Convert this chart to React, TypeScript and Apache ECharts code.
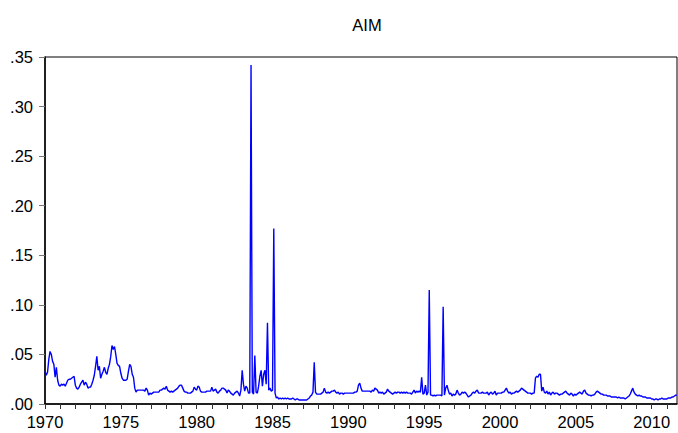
import React, { useEffect, useRef } from "react";
import * as echarts from "echarts";

// Monthly AIM values, 1970M01 .. 2011M09 (one row per year)
const aim1970s = [
  0.033, 0.029, 0.032, 0.045, 0.053, 0.05, 0.043, 0.04, 0.027, 0.037, 0.024, 0.019,
  0.018, 0.02, 0.019, 0.02, 0.018, 0.021, 0.024, 0.025, 0.025, 0.026, 0.027, 0.028,
  0.019, 0.016, 0.015, 0.017, 0.02, 0.022, 0.024, 0.019, 0.022, 0.02, 0.016, 0.017,
  0.017, 0.02, 0.024, 0.029, 0.038, 0.048, 0.034, 0.038, 0.026, 0.03, 0.033, 0.037,
  0.032, 0.03, 0.036, 0.04, 0.048, 0.059, 0.055, 0.058, 0.05, 0.041, 0.039, 0.038,
  0.031, 0.026, 0.024, 0.024, 0.024, 0.025, 0.033, 0.04, 0.038, 0.03, 0.027, 0.016,
  0.012, 0.014, 0.014, 0.014, 0.014, 0.014, 0.014, 0.013, 0.016, 0.014, 0.009, 0.011,
  0.01, 0.011, 0.012, 0.012, 0.012, 0.012, 0.012, 0.014, 0.014, 0.015, 0.016, 0.015,
  0.018, 0.014, 0.013, 0.012, 0.013, 0.012, 0.013, 0.014, 0.015, 0.016, 0.018, 0.019,
  0.019, 0.016, 0.013, 0.012, 0.012, 0.011, 0.011, 0.011, 0.012, 0.013, 0.017, 0.015,
];
const aim1980s = [
  0.014, 0.018, 0.017, 0.013, 0.012, 0.012, 0.012, 0.012, 0.013, 0.013, 0.013, 0.013,
  0.017, 0.013, 0.014, 0.015, 0.012, 0.011, 0.013, 0.014, 0.016, 0.016, 0.015, 0.014,
  0.011, 0.014, 0.013, 0.011, 0.01, 0.009, 0.011, 0.012, 0.013, 0.011, 0.008, 0.014,
  0.034, 0.02, 0.013, 0.018, 0.016, 0.011, 0.011, 0.342, 0.012, 0.01, 0.049, 0.012,
  0.011, 0.018, 0.028, 0.034, 0.018, 0.03, 0.034, 0.02, 0.082, 0.014, 0.016, 0.013,
  0.014, 0.177, 0.011, 0.006, 0.007, 0.005, 0.006, 0.005, 0.006, 0.005, 0.006, 0.005,
  0.006, 0.005, 0.005, 0.005, 0.006, 0.005, 0.004, 0.005, 0.005, 0.004, 0.004, 0.004,
  0.004, 0.004, 0.004, 0.004, 0.005, 0.006, 0.008, 0.009, 0.012, 0.042, 0.012, 0.01,
  0.01, 0.01, 0.01, 0.011, 0.012, 0.016, 0.012, 0.011, 0.012, 0.011, 0.012, 0.013,
  0.013, 0.014, 0.012, 0.011, 0.012, 0.01, 0.011, 0.011, 0.01, 0.011, 0.011, 0.011,
];
const aim1990s = [
  0.011, 0.011, 0.011, 0.011, 0.011, 0.012, 0.012, 0.013, 0.019, 0.021, 0.016, 0.013,
  0.013, 0.013, 0.013, 0.013, 0.013, 0.013, 0.012, 0.014, 0.013, 0.016, 0.015, 0.014,
  0.011, 0.012, 0.011, 0.012, 0.01, 0.011, 0.012, 0.015, 0.013, 0.012, 0.011, 0.01,
  0.011, 0.012, 0.011, 0.012, 0.012, 0.011, 0.012, 0.011, 0.012, 0.011, 0.012, 0.011,
  0.011, 0.011, 0.01, 0.012, 0.014, 0.011, 0.013, 0.012, 0.013, 0.012, 0.027, 0.01,
  0.011, 0.019, 0.009, 0.012, 0.115, 0.009, 0.009, 0.008, 0.009, 0.008, 0.009, 0.009,
  0.009, 0.009, 0.008, 0.098, 0.009, 0.016, 0.019, 0.014, 0.01, 0.011, 0.008, 0.01,
  0.009, 0.01, 0.014, 0.011, 0.009, 0.01, 0.012, 0.011, 0.012, 0.011, 0.009, 0.007,
  0.008, 0.009, 0.011, 0.012, 0.011, 0.013, 0.014, 0.011, 0.011, 0.011, 0.012, 0.011,
  0.011, 0.011, 0.012, 0.009, 0.011, 0.012, 0.01, 0.011, 0.013, 0.009, 0.011, 0.011,
];
const aim2000s = [
  0.011, 0.011, 0.012, 0.012, 0.014, 0.016, 0.013, 0.011, 0.012, 0.01, 0.011, 0.011,
  0.012, 0.013, 0.012, 0.013, 0.014, 0.016, 0.015, 0.014, 0.013, 0.012, 0.011, 0.011,
  0.011, 0.01, 0.011, 0.011, 0.026, 0.028, 0.027, 0.03, 0.03, 0.013, 0.017, 0.012,
  0.011, 0.013, 0.01, 0.012, 0.009, 0.011, 0.012, 0.01, 0.011, 0.011, 0.01, 0.009,
  0.01, 0.01, 0.011, 0.012, 0.013, 0.011, 0.01, 0.009, 0.011, 0.01, 0.008, 0.01,
  0.009, 0.01, 0.011, 0.012, 0.011, 0.01, 0.013, 0.014, 0.011, 0.01, 0.009, 0.009,
  0.008, 0.009, 0.009, 0.01, 0.012, 0.013, 0.012, 0.011, 0.01, 0.01, 0.009, 0.009,
  0.009, 0.008, 0.008, 0.008, 0.007, 0.007, 0.007, 0.007, 0.007, 0.006, 0.007, 0.006,
  0.006, 0.006, 0.006, 0.005, 0.006, 0.007, 0.008, 0.01, 0.013, 0.016, 0.012, 0.01,
  0.009, 0.008, 0.009, 0.008, 0.008, 0.007, 0.007, 0.007, 0.006, 0.006, 0.006, 0.006,
];
const aim2010s = [
  0.005, 0.005, 0.004, 0.005, 0.005, 0.004, 0.005, 0.005, 0.006, 0.005, 0.005, 0.005,
  0.005, 0.006, 0.006, 0.006, 0.007, 0.007, 0.008, 0.009, 0.009,
];

const startYear = 1970;
const yTicks = [0, 0.05, 0.1, 0.15, 0.2, 0.25, 0.3, 0.35];

const aimValues = [...aim1970s, ...aim1980s, ...aim1990s, ...aim2000s, ...aim2010s];
const months = aimValues.map((_, i) => {
  const y = startYear + Math.floor(i / 12);
  const m = (i % 12) + 1;
  return `${y}M${m < 10 ? "0" + m : m}`;
});

export default function App() {
  const ref = useRef<HTMLDivElement>(null);
  useEffect(() => {
    document.body.style.margin = "0";
    const chart = echarts.init(ref.current!, undefined, { renderer: "svg" });
    const font = "'Liberation Sans', Arial, sans-serif";
    chart.setOption({
      animation: false,
      backgroundColor: "#ffffff",
      title: {
        text: "AIM",
        left: 362,
        textAlign: "center",
        top: 11,
        textStyle: { fontFamily: font, fontSize: 16.5, fontWeight: "normal", color: "#000" },
      },
      grid: {
        left: 45,
        right: 1,
        top: 57,
        bottom: 29,
        show: true,
        borderColor: "#000",
        borderWidth: 1,
        containLabel: false,
      },
      xAxis: {
        type: "category",
        data: months,
        boundaryGap: false,
        axisLine: { show: true, lineStyle: { color: "#000", width: 1.5 } },
        axisTick: {
          show: true,
          length: 5,
          inside: false,
          interval: (i: number) => i % 12 === 0,
          lineStyle: { color: "#333" },
        },
        axisLabel: {
          interval: (i: number) => i % 12 === 0 && Math.floor(i / 12) % 5 === 0,
          formatter: (v: string) => v.slice(0, 4),
          margin: 9,
          fontFamily: font,
          fontSize: 16.5,
          color: "#000",
        },
        splitLine: { show: false },
      },
      yAxis: {
        type: "value",
        min: yTicks[0],
        max: yTicks[yTicks.length - 1],
        interval: 0.05,
        axisLine: { show: true, lineStyle: { color: "#000", width: 1.5 } },
        axisTick: { show: true, length: 6, inside: false, lineStyle: { color: "#777" } },
        axisLabel: {
          formatter: (v: number) => v.toFixed(2).replace(/^0/, ""),
          margin: 12,
          fontFamily: font,
          fontSize: 16.5,
          color: "#000",
        },
        splitLine: { show: false },
      },
      series: [
        {
          type: "line",
          data: aimValues,
          showSymbol: false,
          symbol: "none",
          lineStyle: { color: "#0000ff", width: 1.4 },
        },
      ],
    });
    return () => chart.dispose();
  }, []);
  return (
    <div
      ref={ref}
      style={{ position: "absolute", left: 0, top: 0, width: 678, height: 433 }}
    />
  );
}
